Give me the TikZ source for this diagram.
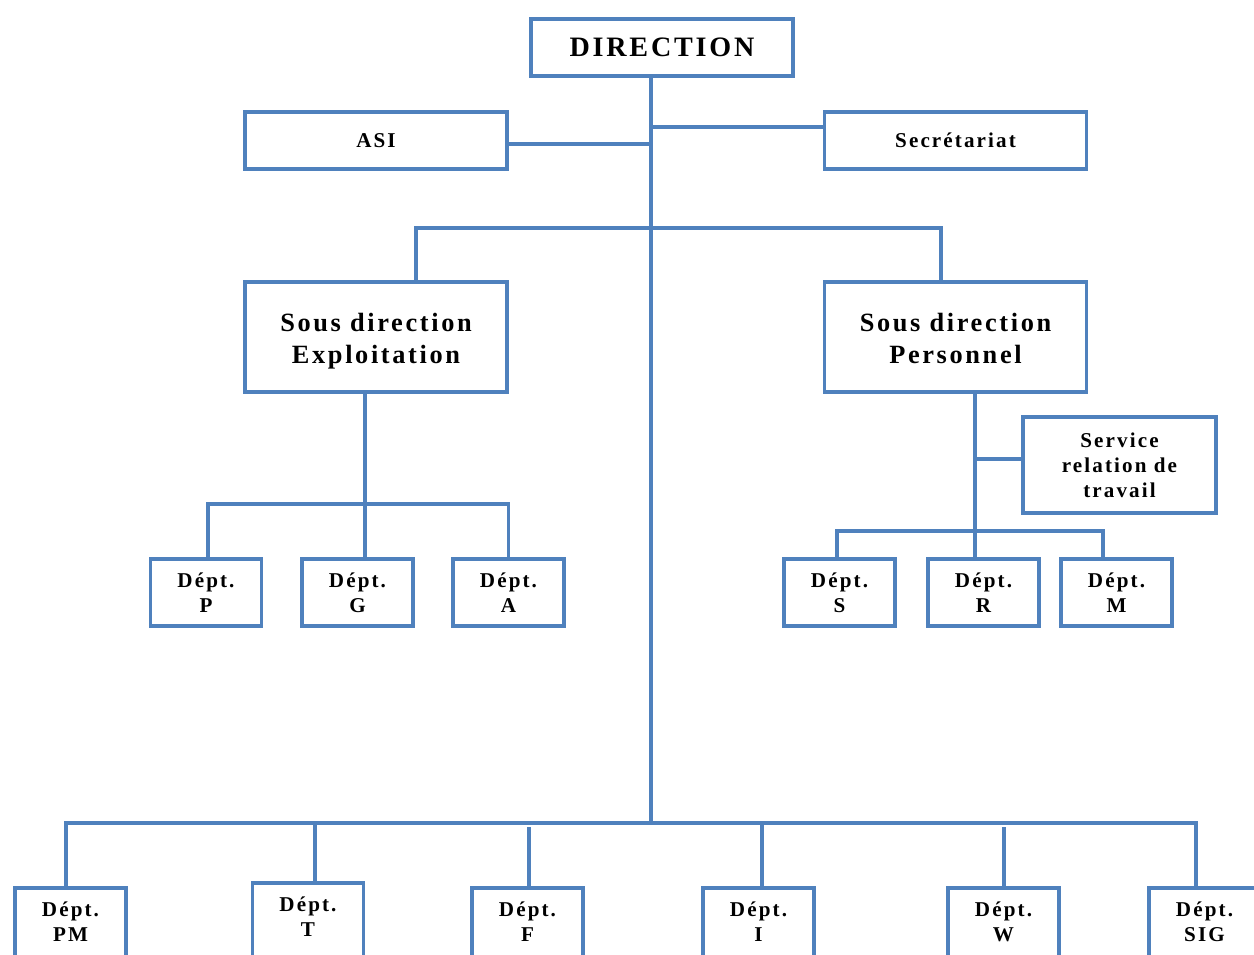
\documentclass[tikz,border=0pt]{standalone}
\usepackage{fontspec}
\setmainfont{Liberation Serif}[LetterSpace=10]
\usepackage{tikz}
\usetikzlibrary{positioning}

\definecolor{orgblue}{RGB}{79,129,189}

% text of a sous direction box, two lines kept at the same height
\newcommand{\sdtext}[1]{\rule{0pt}{16.9pt}Sous direction\\#1\rule[-5pt]{0pt}{0pt}}
% text of a bottom department, pushed to the top of a tall box
\newcommand{\lowtext}[1]{\rule{0pt}{12pt}Dépt.\\#1\rule[-20.4pt]{0pt}{0pt}}

\begin{document}
\begin{tikzpicture}[
    x=0.02cm, y=-0.02cm,
    unit/.style={
        draw=orgblue,
        line width=2.2pt,
        fill=white,
        align=center,
        inner sep=0pt,
        font=\fontsize{12}{14.2}\selectfont\bfseries
    },
    wide/.style={unit, minimum width=5.24cm, minimum height=1.14cm},
    subdir/.style={unit, minimum width=5.24cm, minimum height=2.20cm,
        font=\fontsize{15}{18.7}\selectfont\bfseries},
    dept/.style={unit, minimum width=2.22cm, minimum height=1.34cm},
    lowdept/.style={dept, minimum height=1.92cm},
    link/.style={draw=orgblue, line width=2.2pt}
]
\useasboundingbox (0,0) rectangle (1254,955);
\clip (0,0) rectangle (1254,955);

% Top level
\node[wide, font=\fontsize{16}{18}\selectfont\bfseries] (direction) at (662,47.5) {DIRECTION};
\node[wide] (asi)  at (376,140.5)   {ASI};
\node[wide] (secr) at (955.5,140.5) {Secrétariat};

% Sous directions
\node[subdir] (sde) at (376,337)   {\sdtext{Exploitation}};
\node[subdir] (sdp) at (955.5,337) {\sdtext{Personnel}};

% Departments of Exploitation
\node[dept] (dP) at (206,592.5)   {Dépt.\\P};
\node[dept] (dG) at (357.5,592.5) {Dépt.\\G};
\node[dept] (dA) at (508.5,592.5) {Dépt.\\A};

% Personnel side
\node[unit, minimum width=3.86cm, minimum height=1.92cm] (srt) at (1119.5,465)
    {Service\\relation de\\travail};
\node[dept] (dS) at (839.5,592.5)  {Dépt.\\S};
\node[dept] (dR) at (983.5,592.5)  {Dépt.\\R};
\node[dept] (dM) at (1116.5,592.5) {Dépt.\\M};

% Bottom row (runs off the page)
\node[lowdept] (dPM)  at (70.5,936)   {\lowtext{PM}};
\node[lowdept] (dT)   at (308,931)    {\lowtext{T}};
\node[lowdept] (dF)   at (527.5,936)  {\lowtext{F}};
\node[lowdept] (dI)   at (758.5,936)  {\lowtext{I}};
\node[lowdept] (dW)   at (1003.5,936) {\lowtext{W}};
\node[lowdept] (dSIG) at (1204.5,936) {\lowtext{SIG}};

% Trunk
\coordinate (jb) at (651,823);
\draw[link] (direction.south -| jb) -- (jb);
\draw[link] (asi.east |- 0,144) -- (jb |- 0,144);
\draw[link] (secr.west |- 0,127) -- (jb |- 0,127);

% Bar to the sous directions
\draw[link] (sde.north -| 416,0) -- (416,228) -- (941,228) -- (sdp.north -| 941,0);

% Exploitation branch
\draw[link] (sde.south -| 365,0) -- (dG.north -| 365,0);
\draw[link] (dP.north -| 208,0) |- (dA.north |- 0,504) -- (dA.north);

% Personnel branch
\draw[link] (sdp.south -| 975,0) -- (dR.north -| 975,0);
\draw[link] (srt.west |- 0,459) -- (975,459);
\draw[link] (dS.north -| 837,0) |- (1103,531) -- (dM.north -| 1103,0);

% Bottom bar
\draw[link] (dPM.north -| 66,0) |- (1196,823) -- (dSIG.north -| 1196,0);
\draw[link] (dT.north -| 315,0) -- (315,823);
\draw[link] (dF.north -| 529,0) -- (529,827);
\draw[link] (dI.north -| 762,0) -- (762,823);
\draw[link] (dW.north -| 1004,0) -- (1004,827);

\end{tikzpicture}
\end{document}
